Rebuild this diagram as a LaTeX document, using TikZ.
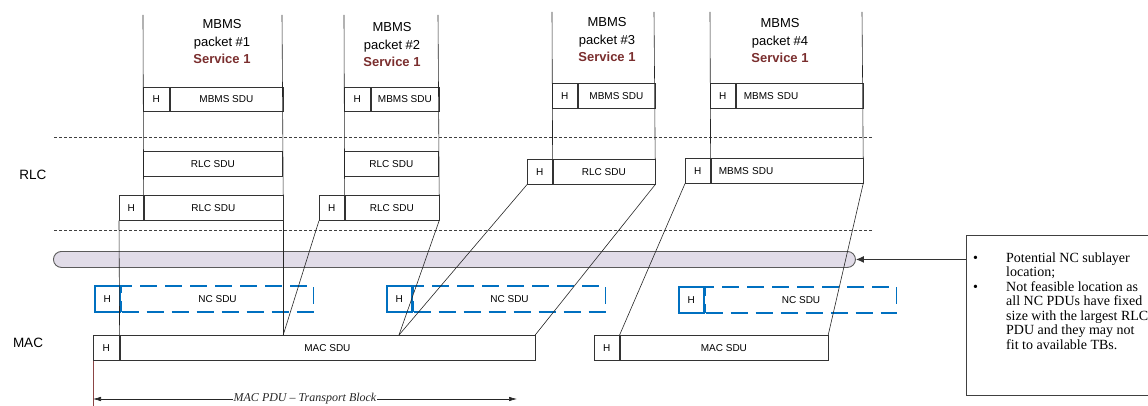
\documentclass[tikz,border=0pt]{standalone}
\usepackage{fontspec}
\setmainfont{Liberation Sans}
\newfontfamily\notefont{Liberation Serif}
\usepackage{tikz}
\usetikzlibrary{arrows.meta,calc}

\definecolor{svcred}{HTML}{7A2E2E}
\definecolor{ncblue}{HTML}{0070C0}
\definecolor{pillfill}{HTML}{E1DCE8}
\definecolor{pillline}{HTML}{5A5A5A}
\definecolor{tbbrown}{HTML}{8B4545}

\tikzset{
  pdu/.style={draw=black!80, fill=white, line width=0.6pt, inner sep=0pt, anchor=north west,
    minimum height=25pt, font=\fontsize{10}{12}\selectfont},
  hdr/.style={pdu, minimum width=25pt},
  leftsdu/.style={pdu, text width=#1, align=left, inner xsep=8pt},
  ncpdu/.style={draw=ncblue, line width=1.7pt, inner sep=0pt, anchor=north west,
    minimum height=26pt, font=\fontsize{10}{12}\selectfont},
  ncsdu/.style={ncpdu, dash pattern=on 17pt off 8pt},
  pkt/.style={align=center, font=\fontsize{13}{17.5}\selectfont},
  layer/.style={font=\fontsize{13.5}{16}\selectfont},
  sep/.style={draw=black!75, line width=0.6pt, dash pattern=on 3pt off 2pt},
  link/.style={draw=black!85, line width=0.6pt},
}

\begin{document}
\begin{tikzpicture}[x=1pt,y=-1pt]
\useasboundingbox (0,0) rectangle (1148,406);

% layer borders
\draw[sep] (54,137) -- (873,137);
\draw[sep] (54,230) -- (873,230);

% NC sublayer
\node[draw=pillline, fill=pillfill, line width=0.9pt, rounded corners=8pt, anchor=north west,
  minimum width=802pt, minimum height=16pt, inner sep=0pt] (ncl) at (53,251) {};

% NC PDUs
\node[ncpdu, minimum width=25pt] (n1h) at (94,285) {H};
\node[ncsdu, minimum width=192pt] (n1s) at (n1h.north east) {NC SDU};
\node[ncpdu, minimum width=25pt] (n2h) at (386,285) {H};
\node[ncsdu, minimum width=192pt] (n2s) at (n2h.north east) {NC SDU};
\node[ncpdu, minimum width=25pt] (n3h) at (678,286) {H};
\node[ncsdu, minimum width=191pt] (n3s) at (n3h.north east) {NC SDU};

% packet titles
\node[pkt] (t1) at (222,42) {MBMS\\packet \#1\\\textbf{\color{svcred}Service 1}};
\node[pkt] (t2) at (392,45) {MBMS\\packet \#2\\\textbf{\color{svcred}Service 1}};
\node[pkt] (t3) at (607,40) {MBMS\\packet \#3\\\textbf{\color{svcred}Service 1}};
\node[pkt] (t4) at (780,41) {MBMS\\packet \#4\\\textbf{\color{svcred}Service 1}};

% MBMS SDUs
\node[hdr, minimum width=26pt, minimum height=24pt] (m1h) at (143,87) {H};
\node[pdu, minimum width=113pt, minimum height=24pt] (m1s) at (m1h.north east) {MBMS SDU};
\node[hdr, minimum width=26pt, minimum height=24pt] (m2h) at (344,87) {H};
\node[pdu, minimum width=68pt, minimum height=24pt] (m2s) at (m2h.north east) {MBMS SDU};
\node[hdr] (m3h) at (552,83) {H};
\node[pdu, minimum width=77pt] (m3s) at (m3h.north east) {MBMS SDU};
\node[hdr] (m4h) at (710,83) {H};
\node[leftsdu=111pt] (m4s) at (m4h.north east) {MBMS SDU};

% RLC
\node[layer] (rlc) at (33,175) {RLC};
\node[pdu, minimum width=139pt] (q1) at (143,151) {RLC SDU};
\node[pdu, minimum width=94pt] (q2) at (344,151) {RLC SDU};
\node[hdr, minimum width=24pt] (r1h) at (119,195) {H};
\node[pdu, minimum width=139pt] (r1s) at (r1h.north east) {RLC SDU};
\node[hdr] (r2h) at (319,195) {H};
\node[pdu, minimum width=94pt] (r2s) at (r2h.north east) {RLC SDU};
\node[hdr] (r3h) at (527,159) {H};
\node[pdu, minimum width=102pt] (r3s) at (r3h.north east) {RLC SDU};
\node[hdr] (r4h) at (685,158) {H};
\node[leftsdu=136pt] (r4s) at (r4h.north east) {MBMS SDU};

% MAC
\node[layer] (mac) at (28,343) {MAC};
\node[hdr, minimum width=26pt] (a1h) at (93,335) {H};
\node[pdu, minimum width=415pt] (a1s) at (a1h.north east) {MAC SDU};
\node[hdr] (a2h) at (594,335) {H};
\node[pdu, minimum width=208pt] (a2s) at (a2h.north east) {MAC SDU};

% packet edges
\coordinate (p1l) at (143,15);
\coordinate (p1r) at (282,15);
\coordinate (p2l) at (344,15);
\coordinate (p2r) at (438,15);
\coordinate (p3l) at (552,12);
\coordinate (p3r) at (654,12);
\coordinate (p4l) at (710,12);
\coordinate (p4r) at (862,12);
\coordinate (j2) at (399,335);
\draw[link] (p1l) -- (r1s.north west);
\draw[link] (p1r) -- (r1s.north east);
\draw[link] (p2l) -- (r2s.north west);
\draw[link] (p2r) -- (r2s.north east);
\draw[link] (p3l) -- (r3s.north west);
\draw[link] (p3r) -- (r3s.north east);
\draw[link] (p4l) -- (r4s.north west);
\draw[link] (p4r) -- (r4s.north east);

% RLC PDUs into MAC SDUs
\draw[link] (r1h.south west) -- (a1s.north west);
\draw[link] (r1s.south east) -- (r1s.south east |- a1s.north);
\draw[link] (r2h.south west) -- (r1s.south east |- a1s.north);
\draw[link] (r2s.south east) -- (j2);
\draw[link] (r3h.south west) -- (j2);
\draw[link] (r3s.south east) -- (a1s.north east);
\draw[link] (r4h.south west) -- (a2s.north west);
\draw[link] (r4s.south east) -- (a2s.north east);

% transport block
\coordinate (tbl) at (93,399);
\coordinate (tbr) at (517,399);
\draw[tbbrown, line width=0.5pt] (a1h.south west) -- ++(0,50);
\draw[black!85, line width=0.6pt, {Latex[length=8pt,width=4.5pt]}-{Latex[length=8pt,width=4.5pt]}] (tbl) --
  node[fill=white, inner sep=0.5pt, font=\notefont\itshape\fontsize{12}{14}\selectfont] (tbtext) {MAC PDU – Transport Block} (tbr);

% note
\node[draw=black!75, fill=white, line width=0.9pt, anchor=north west, minimum width=200pt,
  minimum height=160pt, inner sep=0pt] (note) at (966,235) {};
\node[anchor=north west, inner sep=0pt, align=left, font=\notefont\fontsize{14}{14.5}\selectfont]
  (notetext) at ([xshift=7pt,yshift=-17.5pt]note.north west)
  {\makebox[33pt][l]{\textbullet}Potential NC sublayer\\
   \hspace*{33pt}location;\\
   \makebox[33pt][l]{\textbullet}Not feasible location as\\
   \hspace*{33pt}all NC PDUs have fixed\\
   \hspace*{33pt}size with the largest RLC\\
   \hspace*{33pt}PDU and they may not\\
   \hspace*{33pt}fit to available TBs.};
\draw[draw=black!80, line width=1pt, -{Latex[length=8pt,width=7pt]}] (note.west |- ncl.east) -- (ncl.east);
\end{tikzpicture}
\end{document}
